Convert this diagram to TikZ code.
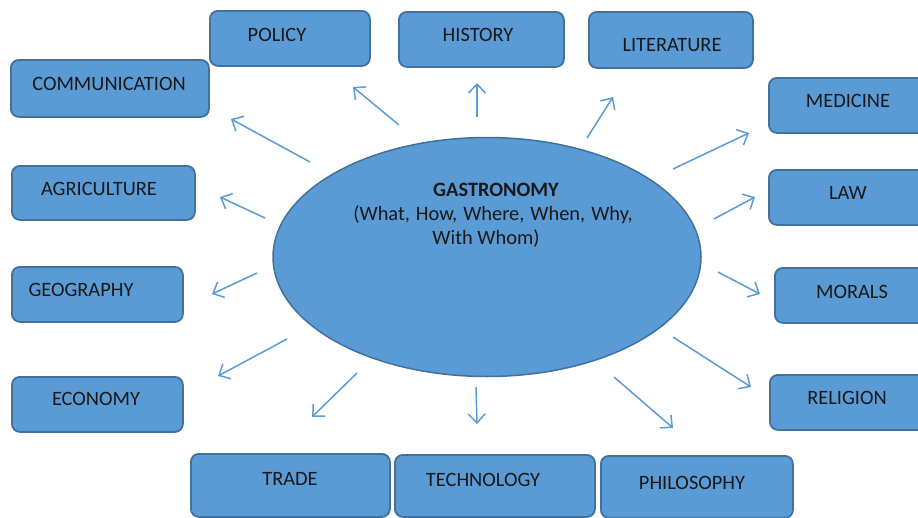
\documentclass[tikz,border=0pt]{standalone}
\usepackage{fontspec}
\setmainfont{Carlito}
\usetikzlibrary{arrows.meta,shapes.geometric}
\definecolor{boxfill}{HTML}{5B9BD5}
\definecolor{boxline}{HTML}{41719C}
\definecolor{arrcol}{HTML}{5B9BD5}
\tikzset{
  boxstyle/.style={draw=boxline, fill=boxfill, line width=1.8pt, rounded corners=8pt, inner sep=0pt, anchor=north west},
  lbl/.style={anchor=base, inner sep=0pt, font=\fontsize{20.4}{24}\selectfont, text=black!90},
  arr/.style={draw=arrcol, line width=1.5pt, -{Straight Barb[length=9pt,width=17pt,line width=1.5pt]}},
}
\begin{document}
\begin{tikzpicture}[x=1pt,y=-1pt]
\useasboundingbox (0,0) rectangle (918,517);
% boxes
\node[boxstyle, minimum width=160, minimum height=55] (policy) at (209,10) {};
\node[boxstyle, minimum width=165, minimum height=55] (history) at (398,11) {};
\node[boxstyle, minimum width=164, minimum height=56] (literature) at (588,11) {};
\node[boxstyle, minimum width=198, minimum height=57] (communication) at (10,59) {};
\node[boxstyle, minimum width=170, minimum height=55] (medicine) at (768,77) {};
\node[boxstyle, minimum width=183, minimum height=54] (agriculture) at (11,165) {};
\node[boxstyle, minimum width=170, minimum height=55] (law) at (768,169) {};
\node[boxstyle, minimum width=171, minimum height=55] (geography) at (11,266) {};
\node[boxstyle, minimum width=165, minimum height=55] (morals) at (774,267) {};
\node[boxstyle, minimum width=171, minimum height=55] (economy) at (11,376) {};
\node[boxstyle, minimum width=170, minimum height=55] (religion) at (769,374) {};
\node[boxstyle, minimum width=199, minimum height=63] (trade) at (190,453) {};
\node[boxstyle, minimum width=200, minimum height=62] (technology) at (394,454) {};
\node[boxstyle, minimum width=192, minimum height=62] (philosophy) at (600,455) {};
% labels
\node[lbl] (tpolicy) at (277,41) {POLICY};
\node[lbl] (thistory) at (478,41) {HISTORY};
\node[lbl] (tliterature) at (672,51) {LITERATURE};
\node[lbl] (tcommunication) at (109,90) {COMMUNICATION};
\node[lbl] (tmedicine) at (848,107) {MEDICINE};
\node[lbl] (tagriculture) at (99,195) {AGRICULTURE};
\node[lbl] (tlaw) at (848,199) {LAW};
\node[lbl] (tgeography) at (81,296) {GEOGRAPHY};
\node[lbl] (tmorals) at (852,298) {MORALS};
\node[lbl] (teconomy) at (96,405) {ECONOMY};
\node[lbl] (treligion) at (847,404) {RELIGION};
\node[lbl] (ttrade) at (290,485) {TRADE};
\node[lbl] (ttechnology) at (483,486) {TECHNOLOGY};
\node[lbl] (tphilosophy) at (692,489) {PHILOSOPHY};
% ellipse
\node[ellipse, draw=boxline, fill=boxfill, line width=1.5pt, minimum width=428, minimum height=239, inner sep=0pt] (gastro) at (487,257) {};
\node[lbl, font=\fontsize{20.4}{24}\selectfont\bfseries] (g1) at (496,196) {GASTRONOMY};
\node[lbl] (g2) at (493,220) {\spaceskip=6pt\relax(What, How, Where, When, Why,};
\node[lbl] (g3) at (486,244) {With Whom)};
% arrow coordinates
\coordinate (a1s) at (399,125); \coordinate (a1e) at (353,87);
\coordinate (a2s) at (477,117); \coordinate (a2e) at (477,83);
\coordinate (a3s) at (587,138); \coordinate (a3e) at (613,97);
\coordinate (a4s) at (310,162); \coordinate (a4e) at (231,119);
\coordinate (a5s) at (673,169); \coordinate (a5e) at (749,133);
\coordinate (a6s) at (265,218); \coordinate (a6e) at (220,197);
\coordinate (a7s) at (714,219); \coordinate (a7e) at (755,197);
\coordinate (a8s) at (257,273); \coordinate (a8e) at (212,294);
\coordinate (a9s) at (718,272); \coordinate (a9e) at (760,294);
\coordinate (a10s) at (287,339); \coordinate (a10e) at (218,376);
\coordinate (a11s) at (673,337); \coordinate (a11e) at (751,387);
\coordinate (a12s) at (357,373); \coordinate (a12e) at (312,417);
\coordinate (a13s) at (476,387); \coordinate (a13e) at (477,424);
\coordinate (a14s) at (614,377); \coordinate (a14e) at (673,428);
\foreach \i in {1,...,14} {\draw[arr] (a\i s) -- (a\i e);}
\end{tikzpicture}
\end{document}
